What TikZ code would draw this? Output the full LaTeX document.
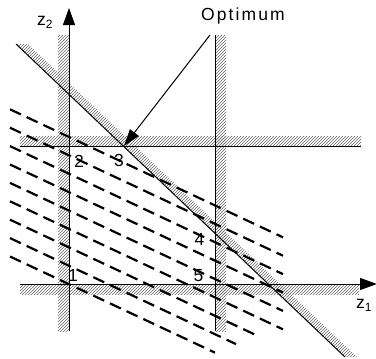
\documentclass[tikz,border=0pt]{standalone}
\usepackage{fontspec}
\setmainfont{Liberation Sans}
\usetikzlibrary{arrows.meta,patterns}
\begin{document}
\begin{tikzpicture}[x=1pt,y=-1pt,
  hatch/.style={pattern=north east lines, pattern color=black!60},
  axis/.style={line width=1pt},
  dline/.style={line width=2.2pt, dash pattern=on 12pt off 6.4pt},
  lbl/.style={font=\fontsize{17.5}{20}\selectfont, inner sep=0pt},
  tip/.style={-{Triangle[length=17pt,width=12pt]}}]
\useasboundingbox (0,0) rectangle (376,359);
% hatched sides of the constraints
\fill[hatch] (58,35) rectangle (69,331);
\fill[hatch] (215,35) rectangle (226,331);
\fill[hatch] (20,284) rectangle (359,294);
\fill[hatch] (20,136) rectangle (361,146);
\fill[hatch] (16,44) -- (28,44) -- (357,357) -- (345,357) -- cycle;
% axes and constraint lines
\coordinate (vb) at (69,331);
\coordinate (vt) at (69,8);
\coordinate (hl) at (20,284);
\coordinate (hr) at (377,284);
\coordinate (cl) at (20,146);
\coordinate (cr) at (361,146);
\coordinate (kt) at (215,35);
\coordinate (kb) at (215,331);
\coordinate (dt) at (16,44);
\coordinate (db) at (345,357);
\draw[axis,tip] (vb) -- (vt);
\draw[axis,tip] (hl) -- (hr);
\draw[axis] (cl) -- (cr);
\draw[axis] (kt) -- (kb);
\draw[axis] (dt) -- (db);
% objective function level lines
\foreach \i/\xe in {0/283,1/283,2/283,3/283,4/283,5/283,6/257,7/236,8/215} {
  \draw[dline] (10,{109.3+18.4*\i}) -- (\xe,{109.3+18.4*\i+0.469*(\xe-10)});
}
% labels
\node[lbl] (n1) at (73,275) {1};
\node[lbl] (n2) at (79,161) {2};
\node[lbl] (n3) at (119,160) {3};
\node[lbl] (n4) at (199.5,239) {4};
\node[lbl] (n5) at (198.5,276) {5};
\node[lbl, anchor=base west] (opt) at (201,20) {\addfontfeature{LetterSpace=12}Optimum};
\node[lbl, anchor=base west] (z2) at (37,25) {z\raisebox{-3pt}{\fontsize{12}{12}\selectfont 2}};
\node[lbl, anchor=base west] (z1) at (356,308) {z\raisebox{-3pt}{\fontsize{12}{12}\selectfont 1}};
% optimum arrow
\coordinate (os) at (210,35);
\coordinate (p3) at (124,146);
\draw[line width=1pt, -{Triangle[length=17pt,width=11pt]}] (os) -- (p3);
\end{tikzpicture}
\end{document}
